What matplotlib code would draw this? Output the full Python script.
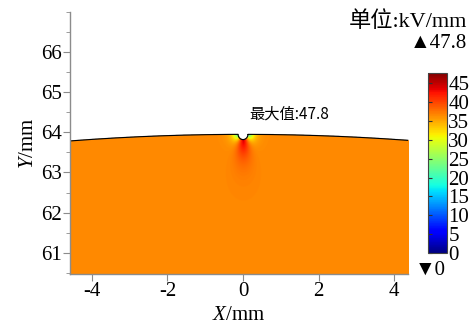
import matplotlib
matplotlib.use('Agg')
import matplotlib.pyplot as plt
import numpy as np

plt.rcParams['font.family'] = ['Liberation Serif', 'Noto Sans CJK SC', 'DejaVu Sans']
plt.rcParams['mathtext.fontset'] = 'custom'
plt.rcParams['mathtext.it'] = 'Liberation Serif:italic'
plt.rcParams['mathtext.rm'] = 'Liberation Serif'

# geometry and field levels (mm, kV/mm)
R_surf = 63.95        # radius of the outer surface
a_notch = 0.13        # radius of the small defect at the top
E_bulk = 36.5         # background field (orange)
E_max = 47.8          # maximum, at the notch bottom
E_edge = 14.0         # field at the notch shoulders (cyan)
plume_depth = 0.32    # decay length of the high-field plume
edge_len = 0.10       # decay length of the low-field spots

x_lim = (-4.58, 4.37)
y_lim = (60.47, 67.0)
y_major = [61, 62, 63, 64, 65, 66]
x_major = [-4, -2, 0, 2, 4]
cbar_ticks = [0, 5, 10, 15, 20, 25, 30, 35, 40, 45]

xs = np.linspace(x_lim[0], x_lim[1], 1800)
ys = np.linspace(60.3, 64.0, 740)
X, Y = np.meshgrid(xs, ys)

depth = R_surf - Y
sx = 0.07 + 0.16 * depth
plume = (E_max - E_bulk) * np.exp(-np.clip(depth - a_notch, 0, None) / plume_depth) \
    * np.exp(-X**2 / (2 * sx**2))
ds = np.minimum(np.hypot(X - a_notch, Y - R_surf), np.hypot(X + a_notch, Y - R_surf))
low = -(E_bulk - E_edge) * np.exp(-ds / edge_len)
E = E_bulk + plume + low

inside = (Y <= np.sqrt(R_surf**2 - X**2)) & (np.hypot(X, Y - R_surf) >= a_notch)
E = np.ma.masked_where(~inside, E)

fig = plt.figure(figsize=(4.75, 3.24), dpi=100)
ax = fig.add_axes([0.1474, 0.1543, 0.7116, 0.8087])

im = ax.imshow(E, origin='lower', extent=(xs[0], xs[-1], ys[0], ys[-1]),
               cmap='jet', vmin=0, vmax=E_max, aspect='auto', interpolation='bilinear')

# top boundary with the notch
xl = np.linspace(x_lim[0], -a_notch, 200)
xr = np.linspace(a_notch, x_lim[1], 200)
phi = np.linspace(np.pi, 2 * np.pi, 60)
bx = np.concatenate([xl, a_notch * np.cos(phi), xr])
by = np.concatenate([np.sqrt(R_surf**2 - xl**2), R_surf + a_notch * np.sin(phi),
                     np.sqrt(R_surf**2 - xr**2)])
ax.plot(bx, by, color='black', lw=0.8)

ax.set_xlim(x_lim)
ax.set_ylim(y_lim)
ax.set_xticks(x_major)
ax.set_xticklabels([str(v) for v in x_major])
ax.set_yticks(y_major)
ax.set_yticks(np.arange(60.5, 67.01, 0.5), minor=True)
for s in ['top', 'right']:
    ax.spines[s].set_visible(False)
for s in ['left', 'bottom']:
    ax.spines[s].set_color('#8c8c8c')
    ax.spines[s].set_linewidth(1.0)
ax.tick_params(which='both', direction='out', color='#8c8c8c', labelsize=15, pad=1)
ax.tick_params(which='major', length=5)
ax.tick_params(which='minor', length=3)
ax.set_xlabel(r'$\mathit{X}$/mm', fontsize=15, labelpad=3)
ax.set_ylabel(r'$\mathit{Y}$/mm', fontsize=15, labelpad=2)

ax.text(0.17, 64.45, '最大值:47.8', fontsize=11, family=['Noto Sans CJK SC', 'DejaVu Sans'],
        ha='left', va='center')

cax = fig.add_axes([0.901, 0.219, 0.040, 0.5565])
cb = fig.colorbar(im, cax=cax, ticks=cbar_ticks)
cb.outline.set_edgecolor('#444444')
cb.outline.set_linewidth(0.8)
cax.tick_params(left=True, right=False, labelleft=False, labelright=True,
                direction='in', length=3, color='#333333', labelsize=15, pad=1)

fig.text(0.983, 0.932, '单位:kV/mm', fontsize=16, ha='right', va='center')
fig.text(0.983, 0.867, '▲47.8', fontsize=15, ha='right', va='center')
fig.text(0.874, 0.165, '▼0', fontsize=15, ha='left', va='center')

fig.savefig('out.png', dpi=100)
